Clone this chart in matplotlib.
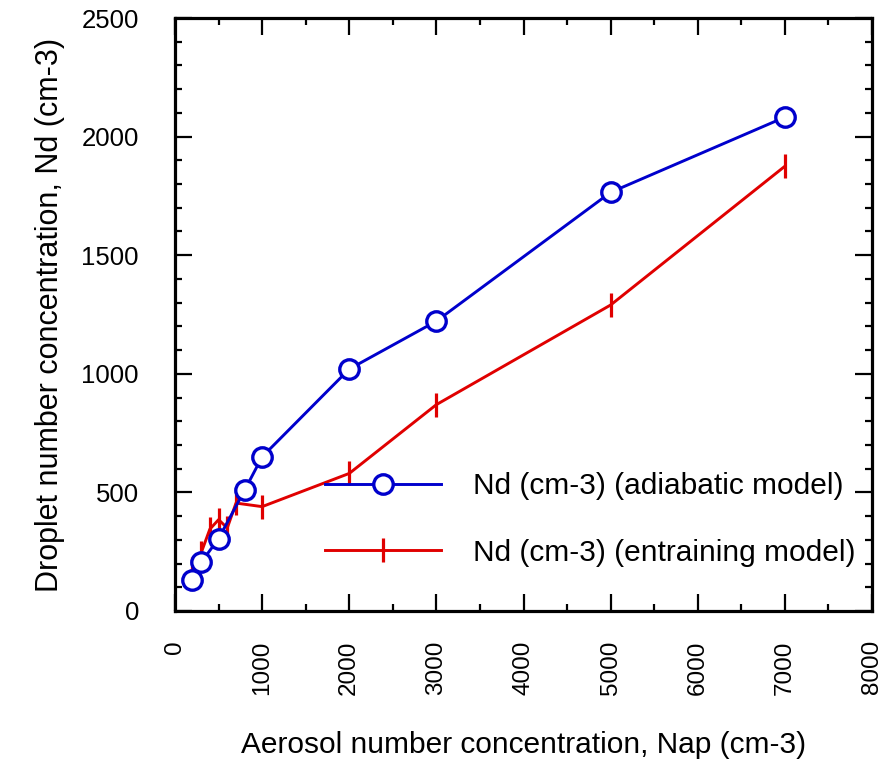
import matplotlib
matplotlib.use('Agg')
import matplotlib.pyplot as plt
from matplotlib.ticker import MultipleLocator

# aerosol number concentration (cm-3) and droplet number concentration (cm-3)
nap_adiab = [200, 300, 500, 800, 1000, 2000, 3000, 5000, 7000]
nd_adiab = [130, 205, 305, 510, 650, 1020, 1222, 1765, 2082]

nap_entr = [200, 300, 400, 500, 600, 700, 1000, 2000, 3000, 5000, 7000]
nd_entr = [175, 245, 345, 385, 350, 455, 440, 580, 870, 1290, 1875]

plt.rcParams['font.family'] = ['Liberation Sans', 'DejaVu Sans']

fig = plt.figure(figsize=(8.83, 7.65), dpi=100)
ax = fig.add_axes([175/883., 1 - 611/765., (872-175)/883., (611-18)/765.])

ax.plot(nap_entr, nd_entr, color='#e00000', lw=2.1, marker='|', ms=17, mew=2.3,
        label='Nd (cm-3) (entraining model)', zorder=2)
ax.plot(nap_adiab, nd_adiab, color='#0000cc', lw=2.1, marker='o', ms=14, mew=2.4,
        mfc='white', mec='#0000cc', label='Nd (cm-3) (adiabatic model)', zorder=3)

ax.set_xlim(0, 8000)
ax.set_ylim(0, 2500)
ax.xaxis.set_major_locator(MultipleLocator(1000))
ax.xaxis.set_minor_locator(MultipleLocator(500))
ax.yaxis.set_major_locator(MultipleLocator(500))
ax.yaxis.set_minor_locator(MultipleLocator(100))

for s in ax.spines.values():
    s.set_linewidth(2.3)

ax.tick_params(which='both', direction='in', top=True, right=True, width=1.6)
ax.tick_params(which='major', length=12)
ax.tick_params(which='minor', length=5)
ax.tick_params(axis='y', labelsize=18.5, pad=26)
ax.tick_params(axis='x', labelsize=17.5, pad=21, labelrotation=90)

ax.set_xlabel('Aerosol number concentration, Nap (cm-3)', fontsize=21.5, labelpad=26)
ax.set_ylabel('Droplet number concentration, Nd (cm-3)', fontsize=22, labelpad=12)

h, l = ax.get_legend_handles_labels()
ax.legend(h[::-1], l[::-1], loc='upper left', frameon=False,
          bbox_to_anchor=(325/883., 1 - 472/765.), bbox_transform=fig.transFigure,
          fontsize=21.5, handlelength=3.9, handletextpad=1.05, labelspacing=1.3,
          borderpad=0, borderaxespad=0, numpoints=1)

plt.savefig('out.png', dpi=100)
